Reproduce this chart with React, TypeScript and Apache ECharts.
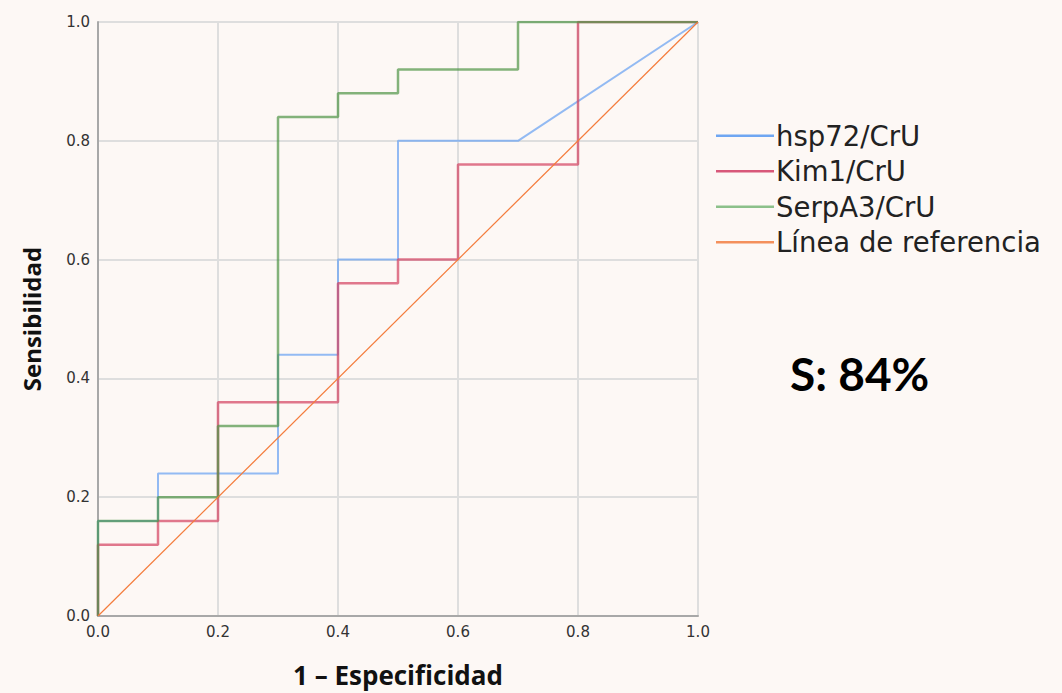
import React, { useEffect, useRef } from "react";
import * as echarts from "echarts";

const tickValues = [0, 0.2, 0.4, 0.6, 0.8, 1.0];

const hspX = [0, 0, 0.1, 0.1, 0.3, 0.3, 0.4, 0.4, 0.5, 0.5, 0.7, 1.0];
const hspY = [0, 0.16, 0.16, 0.24, 0.24, 0.44, 0.44, 0.6, 0.6, 0.8, 0.8, 1.0];

const kimX = [0, 0, 0.1, 0.1, 0.2, 0.2, 0.4, 0.4, 0.5, 0.5, 0.6, 0.6, 0.8, 0.8, 1.0];
const kimY = [0, 0.12, 0.12, 0.16, 0.16, 0.36, 0.36, 0.56, 0.56, 0.6, 0.6, 0.76, 0.76, 1.0, 1.0];

const serpX = [0, 0, 0.1, 0.1, 0.2, 0.2, 0.3, 0.3, 0.4, 0.4, 0.5, 0.5, 0.7, 0.7, 1.0];
const serpY = [0, 0.16, 0.16, 0.2, 0.2, 0.32, 0.32, 0.84, 0.84, 0.88, 0.88, 0.92, 0.92, 1.0, 1.0];

const refX = [0, 1];
const refY = [0, 1];

const seriesNames = ["hsp72/CrU", "Kim1/CrU", "SerpA3/CrU", "Línea de referencia"];
const annotation = "S: 84%";

const zip = (xs: number[], ys: number[]) => xs.map((x, i) => [x, ys[i]]);

export default function App() {
  const ref = useRef<HTMLDivElement>(null);
  useEffect(() => {
    document.body.style.margin = "0";
    document.body.style.background = "#fdf8f5";
    if (!ref.current) return;
    const chart = echarts.init(ref.current, null, { renderer: "svg" });
    const axisLabel = {
      fontFamily: "DejaVu Sans",
      fontSize: 15,
      color: "#333",
      formatter: (v: number) => v.toFixed(1),
    };
    chart.setOption({
      animation: false,
      backgroundColor: "#fdf8f5",
      grid: { left: 98, right: 364, top: 22, bottom: 73, containLabel: false },
      xAxis: {
        type: "value",
        min: 0,
        max: 1,
        interval: 0.2,
        name: "1 – Especificidad",
        nameLocation: "middle",
        nameGap: 46,
        nameTextStyle: { fontFamily: "Open Sans", fontWeight: "bold", fontSize: 26, color: "#111" },
        axisLine: { show: true, lineStyle: { color: "#a8a8a8", width: 2 } },
        axisTick: { show: false },
        axisLabel: { ...axisLabel, margin: 8 },
        splitLine: { show: true, lineStyle: { color: "#dedede", width: 2 } },
      },
      yAxis: {
        type: "value",
        min: 0,
        max: 1,
        interval: 0.2,
        name: "Sensibilidad",
        nameLocation: "middle",
        nameGap: 55,
        nameTextStyle: { fontFamily: "Open Sans", fontWeight: "bold", fontSize: 24, color: "#111" },
        axisLine: { show: true, lineStyle: { color: "#a8a8a8", width: 2 } },
        axisTick: { show: false },
        axisLabel: { ...axisLabel, margin: 8 },
        splitLine: { show: true, lineStyle: { color: "#dedede", width: 2 } },
      },
      legend: {
        left: 711,
        top: 115,
        orient: "vertical",
        icon: "rect",
        itemWidth: 58,
        itemHeight: 2.5,
        itemGap: 4,
        data: seriesNames,
        textStyle: { fontFamily: "DejaVu Sans", fontSize: 27.5, color: "#222", lineHeight: 31.5, padding: [0, 0, 0, -3] },
      },
      series: [
        {
          name: seriesNames[0],
          type: "line",
          data: zip(hspX, hspY),
          symbol: "none",
          lineStyle: { color: "#6fa6f2", width: 2, opacity: 0.75 },
          itemStyle: { color: "#6fa6f2" },
        },
        {
          name: seriesNames[1],
          type: "line",
          data: zip(kimX, kimY),
          symbol: "none",
          lineStyle: { color: "#d3405f", width: 2.5, opacity: 0.7 },
          itemStyle: { color: "#d8587a" },
        },
        {
          name: seriesNames[2],
          type: "line",
          data: zip(serpX, serpY),
          symbol: "none",
          lineStyle: { color: "#4f9446", width: 2.5, opacity: 0.7 },
          itemStyle: { color: "#8cc08a" },
        },
        {
          name: seriesNames[3],
          type: "line",
          data: zip(refX, refY),
          symbol: "none",
          lineStyle: { color: "#f47c3c", width: 1.2 },
          itemStyle: { color: "#f4905c" },
        },
      ],
      graphic: [
        {
          type: "text",
          left: 790,
          top: 350,
          style: {
            text: annotation,
            fontFamily: "Lato",
            fontWeight: "bold",
            fontSize: 46,
            fill: "#000",
          },
        },
      ],
    });
    return () => chart.dispose();
  }, []);
  return <div ref={ref} style={{ width: 1062, height: 693 }} />;
}
